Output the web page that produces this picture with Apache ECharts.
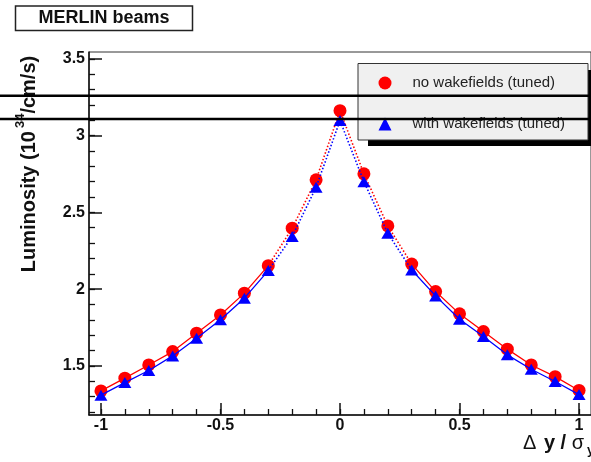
<!DOCTYPE html>
<html>
<head>
<meta charset="utf-8">
<script src="https://cdn.jsdelivr.net/npm/echarts@6/dist/echarts.min.js"></script>
<style>
html,body{margin:0;padding:0;background:#fff;}
#chart{width:591px;height:462px;}
</style>
</head>
<body>
<div id="chart"></div>
<script>
// ---- data ----
const xValues = [-1, -0.9, -0.8, -0.7, -0.6, -0.5, -0.4, -0.3, -0.2, -0.1, 0, 0.1, 0.2, 0.3, 0.4, 0.5, 0.6, 0.7, 0.8, 0.9, 1];
const noWakefields = [1.337, 1.420, 1.506, 1.593, 1.713, 1.832, 1.974, 2.153, 2.397, 2.712, 3.163, 2.751, 2.412, 2.163, 1.984, 1.839, 1.724, 1.609, 1.506, 1.430, 1.340];
const withWakefields = [1.309, 1.391, 1.470, 1.565, 1.680, 1.800, 1.941, 2.121, 2.343, 2.664, 3.098, 2.700, 2.364, 2.125, 1.956, 1.804, 1.691, 1.572, 1.478, 1.398, 1.313];
const seriesNames = ['no wakefields (tuned)', 'with wakefields (tuned)'];
const xMajorTicks = [-1, -0.5, 0, 0.5, 1];
const xMinorTicks = [-1, -0.9, -0.8, -0.7, -0.6, -0.5, -0.4, -0.3, -0.2, -0.1, 0, 0.1, 0.2, 0.3, 0.4, 0.5, 0.6, 0.7, 0.8, 0.9, 1];
const yMajorTicks = [1.5, 2, 2.5, 3, 3.5];
const yMinorTicks = [1.2, 1.3, 1.4, 1.5, 1.6, 1.7, 1.8, 1.9, 2, 2.1, 2.2, 2.3, 2.4, 2.5, 2.6, 2.7, 2.8, 2.9, 3, 3.1, 3.2, 3.3, 3.4, 3.5];
const dottedLimit = 0.3; // central region drawn with dotted line

// ---- helpers ----
function pts(vals){ return xValues.map((x,i)=>[x, vals[i]]); }
function outer(vals){ return xValues.map((x,i)=> Math.abs(x) >= dottedLimit - 1e-9 ? [x, vals[i]] : [x, '-']); }
function inner(vals){ return xValues.map((x,i)=> Math.abs(x) <= dottedLimit + 1e-9 ? [x, vals[i]] : [x, '-']); }

const FONT = 'Liberation Sans, Arial, Helvetica, sans-serif';
const chart = echarts.init(document.getElementById('chart'), null, {renderer:'canvas'});

const axisLineStyle = {color:'#111', width:1.5};
const hiddenLine = {show:true, onZero:false, lineStyle:{color:'rgba(0,0,0,0)', width:0}};
const option = {
  animation:false,
  backgroundColor:'#fff',
  grid:{left:89, top:52, width:508, height:363, show:true, borderColor:'#333', borderWidth:1, backgroundColor:'transparent'},
  xAxis:[
    {type:'value', min:-1.05, max:1.05, position:'bottom',
     axisLine:{show:true, lineStyle:axisLineStyle, onZero:false},
     axisTick:{show:true, inside:true, length:6, customValues:xMinorTicks, lineStyle:{color:'#111', width:1.3}},
     axisLabel:{show:false}, splitLine:{show:false}},
    {type:'value', min:-1.05, max:1.05, position:'bottom',
     axisLine:hiddenLine,
     axisTick:{show:true, inside:true, length:12, customValues:xMajorTicks, lineStyle:{color:'#111', width:1.5}},
     axisLabel:{show:true, customValues:xMajorTicks, margin:3, color:'#111', fontSize:16, fontWeight:'bold', fontFamily:FONT},
     splitLine:{show:false}}
  ],
  yAxis:[
    {type:'value', min:1.18, max:3.545, position:'left',
     axisLine:{show:true, lineStyle:axisLineStyle, onZero:false},
     axisTick:{show:true, inside:true, length:6, customValues:yMinorTicks, lineStyle:{color:'#111', width:1.3}},
     axisLabel:{show:false}, splitLine:{show:false}},
    {type:'value', min:1.18, max:3.545, position:'left',
     axisLine:hiddenLine,
     axisTick:{show:true, inside:true, length:13, customValues:yMajorTicks, lineStyle:{color:'#111', width:1.5}},
     axisLabel:{show:true, customValues:yMajorTicks, margin:4, color:'#111', fontSize:16, fontWeight:'bold', fontFamily:FONT},
     splitLine:{show:false}}
  ],
  legend:{
    orient:'vertical', left:378.5, top:75.5, padding:0, itemGap:26,
    itemWidth:13, itemHeight:13,
    textStyle:{fontSize:15, color:'#222', fontFamily:FONT, padding:[0,0,0,16]},
    data:[{name:seriesNames[0], icon:'circle'}, {name:seriesNames[1], icon:'triangle'}],
    z:10
  },
  series:[
    {type:'line', name:'red-solid', data:outer(noWakefields), showSymbol:false, symbol:'none', connectNulls:false,
     lineStyle:{color:'#ff0000', width:1.3}, z:2, silent:true},
    {type:'line', name:'red-dot', data:inner(noWakefields), showSymbol:false, symbol:'none', connectNulls:false,
     lineStyle:{color:'#ff0000', width:1.6, type:[1.5,2]}, z:2, silent:true},
    {type:'scatter', name:seriesNames[0], data:pts(noWakefields), symbol:'circle', symbolSize:13,
     itemStyle:{color:'#ff0000', opacity:1}, z:3},
    {type:'line', name:'blue-solid', data:outer(withWakefields), showSymbol:false, symbol:'none', connectNulls:false,
     lineStyle:{color:'#0000ff', width:1.3}, z:4, silent:true},
    {type:'line', name:'blue-dot', data:inner(withWakefields), showSymbol:false, symbol:'none', connectNulls:false,
     lineStyle:{color:'#0000ff', width:1.6, type:[1.5,2]}, z:4, silent:true},
    {type:'scatter', name:seriesNames[1], data:pts(withWakefields), symbol:'triangle', symbolSize:[13,11],
     itemStyle:{color:'#0000ff', opacity:1}, z:5}
  ],
  graphic:[
    {type:'rect', z:1, shape:{x:15.5, y:6, width:177, height:24.5}, style:{fill:'#fff', stroke:'#222', lineWidth:1.5}},
    {type:'text', z:2, x:104, y:18.5, style:{text:'MERLIN beams', align:'center', verticalAlign:'middle',
      fontSize:18, fontWeight:'bold', fontFamily:FONT, fill:'#111'}},
    {type:'rect', z:8, shape:{x:368, y:70, width:240, height:76}, style:{fill:'#000'}},
    {type:'rect', z:9, shape:{x:358, y:63.5, width:230, height:76.5}, style:{fill:'#f0f0f0', stroke:'#333', lineWidth:1}},
    {type:'text', z:2, x:29, y:164, rotation:Math.PI/2,
     style:{text:'Luminosity (10{sup|34}/cm/s)', align:'center', verticalAlign:'middle',
       fontSize:20, fontWeight:'bold', fontFamily:FONT, fill:'#111',
       rich:{sup:{fontSize:13, fontWeight:'bold', fontFamily:FONT, fill:'#111', padding:[0,0,17,3]}}}},
    {type:'text', z:2, x:523, y:443,
     style:{text:'{d|Δ} y / {d|σ}{sub|y}', align:'left', verticalAlign:'middle',
       fontSize:20, fontWeight:'bold', fontFamily:FONT, fill:'#111',
       rich:{d:{fontSize:20, fontWeight:'normal', fontFamily:FONT, fill:'#111', padding:[0,2,0,0]},
             sub:{fontSize:13, fontWeight:'bold', fontFamily:FONT, fill:'#111', padding:[14,0,0,1]}}}},
    {type:'line', z:100, shape:{x1:0, y1:95.7, x2:591, y2:95.7}, style:{stroke:'#000', lineWidth:2.6}},
    {type:'line', z:100, shape:{x1:0, y1:119, x2:591, y2:119}, style:{stroke:'#000', lineWidth:2.6}}
  ]
};
chart.setOption(option);
</script>
</body>
</html>
